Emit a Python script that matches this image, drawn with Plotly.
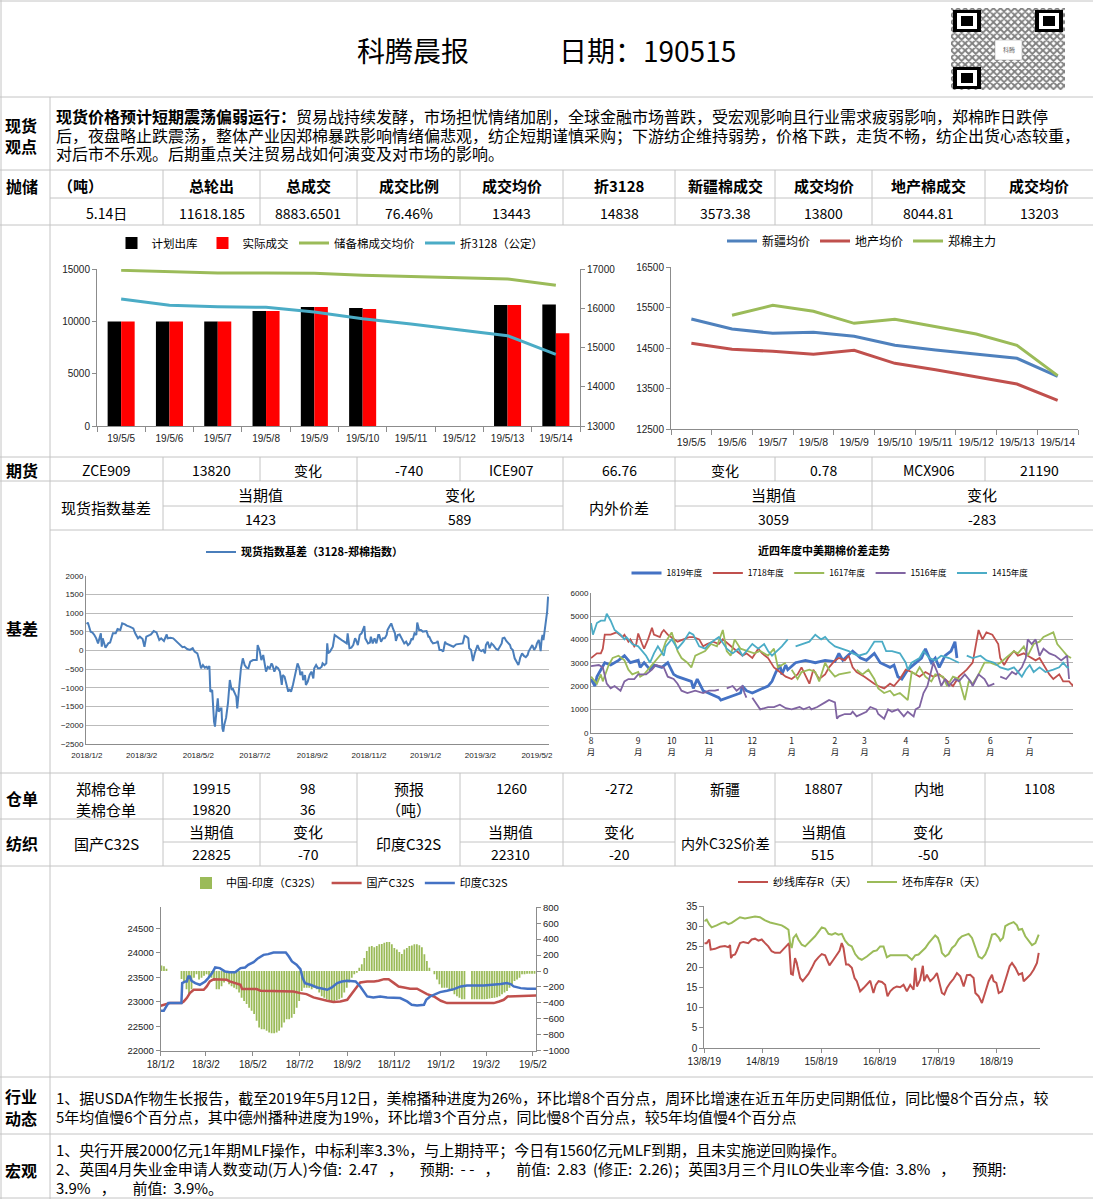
import plotly.graph_objects as go
import pandas as pd

W, H = 1093, 1199
FONT = "Noto Sans CJK SC"
NUM = "Liberation Sans"
GRID = "#C4C4C4"
AX = "#8C8C8C"
NB = "\u00a0"


def px(x):
    return x / W


def py(y):
    return 1 - y / H


# ======================= DATA =======================
# chart 1: 抛储
c1_dates = ["19/5/5", "19/5/6", "19/5/7", "19/5/8", "19/5/9", "19/5/10", "19/5/11", "19/5/12", "19/5/13", "19/5/14"]
c1_plan = [10000, 10000, 10000, 11000, 11375, 11280, None, None, 11568, 11618]
c1_actual = [10000, 10000, 10000, 11000, 11375, 11185, None, None, 11568, 8884]
c1_reserve_price = [14873, 14714, 14619, 14619, 14587, 14396, 14301, 14174, 14047, 13443]
c1_z3128 = [16237, 16076, 16042, 16025, 15907, 15737, 15602, 15458, 15305, 14831]

# chart 2: 均价
c2_xinjiang = [15222, 14974, 14867, 14891, 14793, 14570, 14455, 14356, 14248, 13803]
c2_local = [14620, 14471, 14422, 14347, 14446, 14125, 13968, 13786, 13613, 13209]
c2_zce = [None, 15312, 15559, 15411, 15114, 15213, 15024, 14851, 14570, 13820]

# chart 3: 现货指数基差 (days since 2018-01-02, value)
basis_pts = [
    (0, 700), (1, 750), (4, 500), (6, 480), (8, 415), (10, 325), (12, 190), (14, 370), (15, 460), (16, 100),
    (17, 325), (20, 75), (23, 190), (25, 215), (28, 460), (31, 460), (33, 575), (36, 550), (38, 725), (41, 700),
    (43, 665), (46, 640), (50, 590), (52, 460), (55, 325), (57, 370), (60, 305), (62, 100), (64, 370), (68, 415),
    (69, 430), (72, 520), (75, 485), (78, 280), (80, 325), (83, 255), (86, 430), (87, 325), (90, 340), (93, 325),
    (96, 255), (100, 145), (103, 90), (105, 100), (108, 40), (111, 15), (114, 60), (116, -30), (119, -75), (121, -255),
    (123, -475), (125, -390), (127, -460), (129, -435), (130, -475), (132, -415), (133, -1100), (135, -1060), (136, -1550), (137, -1900),
    (138, -2035), (139, -1725), (141, -1280), (142, -1635), (144, -1550), (145, -1550), (146, -2080), (147, -2170), (148, -1990), (150, -1795),
    (152, -1410), (154, -790), (156, -1060), (157, -1010), (159, -1145), (161, -1235), (162, -1550), (164, -970), (166, -475), (168, -210),
    (170, -390), (172, -460), (174, -475), (176, -300), (179, -255), (183, -255), (184, 145), (186, 15), (188, -255), (190, -120),
    (192, -520), (193, -565), (195, -435), (197, -475), (199, -345), (200, -390), (202, -565), (204, -435), (206, -475), (208, -565),
    (210, -920), (211, -655), (213, -700), (215, -920), (217, -1100), (218, -1030), (220, -1100), (222, -920), (225, -565), (227, -345),
    (229, -475), (230, -655), (232, -565), (233, -790), (235, -655), (236, -920), (238, -830), (240, -655), (242, -565), (244, -745),
    (245, -475), (247, -390), (249, -475), (251, -475), (253, -435), (254, -345), (256, -390), (258, -345), (259, 190), (260, -75),
    (262, -30), (263, 15), (265, 100), (267, 415), (269, 370), (272, 325), (276, 255), (280, 190), (281, 460), (283, 60),
    (285, 75), (287, 145), (289, 325), (290, 280), (292, 145), (294, 415), (296, 460), (298, 590), (299, 655), (300, 325),
    (303, 190), (305, 210), (306, 370), (308, 190), (310, 325), (312, 190), (314, 415), (315, 415), (317, 235), (319, 325),
    (321, 325), (323, 415), (324, 550), (326, 640), (328, 725), (330, 575), (332, 460), (333, 255), (335, 415), (337, 430),
    (339, 325), (341, 235), (342, 190), (344, 235), (346, 145), (348, 190), (350, 325), (351, 280), (353, 460), (355, 415),
    (356, 750), (358, 550), (360, 550), (362, 505), (364, 505), (366, 520), (368, 370), (369, 370), (371, 255), (373, 190),
    (377, 215), (378, 255), (380, 15), (382, 15), (384, -30), (386, 235), (387, 190), (391, 145), (395, 100), (398, 165),
    (402, 175), (405, 190), (407, 390), (409, 370), (411, 325), (412, 60), (414, 15), (416, -280), (418, -75), (420, 60),
    (421, 145), (423, 15), (425, -15), (427, 15), (429, -75), (430, 145), (432, 235), (434, 60), (436, 190), (438, 145),
    (439, 100), (441, 40), (443, 15), (445, 100), (447, 190), (448, 325), (450, 340), (452, 255), (454, 190), (456, 145),
    (457, 60), (459, 15), (461, -210), (463, -300), (465, -390), (466, -300), (467, -190), (469, -75), (471, -145), (473, -180),
    (475, -120), (476, -30), (478, 60), (480, 145), (482, 15), (484, 100), (485, 190), (487, 280), (488, 145), (489, -15),
    (490, 280), (491, 415), (492, 280), (493, 460), (494, 680), (495, 815), (496, 1040), (497, 1440),
]

# chart 4: 近四年度中美期棉价差 (trading-day index within season, value)
c4_month_idx = [0, 24, 41, 60, 82, 102, 124, 139, 160, 181, 203, 223]
c4_month_lbl = ["8", "9", "10", "11", "12", "1", "2", "3", "4", "5", "6", "7"]
s1819 = [(0, 2300), (2, 2000), (3, 2400), (5, 2700), (7, 3000), (10, 2900), (12, 3000), (14, 3100), (17, 3300), (20, 3000),
         (24, 3100), (25, 2800), (27, 3000), (30, 2700), (32, 2900), (36, 2800), (39, 3000), (42, 2500), (44, 2400), (48, 2300),
         (51, 2200), (52, 1900), (54, 2300), (57, 1800), (60, 1700), (63, 1600), (65, 1500), (66, 1400), (69, 1500), (72, 1600),
         (76, 1700), (77, 2000), (79, 1800), (82, 1700), (85, 1800), (87, 1900), (90, 2000), (92, 2200), (94, 2600), (96, 2900),
         (97, 2500), (99, 2900), (100, 2700), (104, 3000), (109, 3100), (114, 3000), (119, 3100), (124, 3050), (126, 3400), (128, 3100),
         (133, 3500), (137, 3200), (140, 3100), (144, 3400), (147, 3000), (152, 2800), (154, 2900), (156, 2400), (158, 2300), (161, 2700),
         (165, 3000), (168, 3200), (170, 3600), (173, 3000), (175, 3200), (177, 2800), (180, 3300), (183, 3500), (185, 3900), (186, 3200)]
s1718 = [(0, 3200), (3, 3400), (5, 3400), (6, 3600), (7, 4200), (10, 4200), (13, 4300), (16, 4100), (17, 4200), (19, 3900),
         (20, 4000), (22, 3700), (23, 3800), (24, 4250), (26, 3800), (27, 3600), (29, 4000), (31, 4500), (32, 4200), (35, 4100),
         (36, 4300), (37, 4400), (39, 4200), (42, 4000), (44, 3900), (47, 4000), (50, 4100), (52, 4100), (55, 4000), (57, 3700),
         (59, 3800), (62, 3900), (65, 3800), (67, 4000), (71, 3700), (74, 3500), (77, 3300), (79, 3400), (82, 3200), (85, 3600),
         (87, 3400), (90, 3200), (93, 2800), (96, 2600), (99, 2400), (102, 2300), (105, 2500), (107, 2800), (110, 2300), (111, 2100),
         (113, 2700), (116, 2300), (119, 2500), (121, 2800), (124, 3100), (126, 3200), (129, 3100), (131, 3300), (133, 2800), (135, 2600),
         (139, 2400), (142, 2200), (144, 2100), (146, 2000), (149, 1900), (152, 2100), (154, 2000), (157, 2300), (160, 2700), (163, 2600),
         (167, 2400), (170, 2600), (174, 2400), (177, 2500), (181, 2200), (184, 2000), (187, 2400), (191, 2700), (194, 3000), (195, 3500),
         (197, 4400), (199, 4000), (201, 4300), (204, 4200), (207, 3800), (208, 3200), (210, 2900), (212, 3200), (215, 3500), (217, 3300),
         (220, 3400), (222, 3300), (226, 3100), (228, 3200), (231, 2800), (233, 2500), (235, 2300), (238, 2500), (240, 2200), (243, 2200),
         (245, 2000), (246, 2300)]
s1617 = [(0, 2400), (2, 2200), (3, 2100), (5, 2500), (6, 2200), (9, 2900), (11, 3200), (14, 3300), (17, 3100), (19, 2700),
         (21, 2500), (24, 2600), (25, 2400), (27, 2500), (30, 2800), (32, 3000), (36, 3400), (38, 3900), (41, 4300), (44, 3500),
         (46, 3200), (49, 3000), (51, 2800), (53, 3300), (56, 3400), (58, 3500), (61, 3800), (64, 3700), (67, 4400), (69, 3500),
         (71, 3300), (73, 4000), (76, 3600), (80, 3500), (83, 3400), (86, 3500), (90, 3300), (93, 3600), (95, 2800), (97, 2900),
         (99, 3000), (100, None), (102, 2700), (105, 2300), (107, 2600), (111, 2700), (114, 2600), (116, 2200), (119, 3000), (121, 2700),
         (124, 2400), (126, 2500), (132, 2600), (133, None), (135, 2700), (138, 2500), (141, 2700), (144, 2300), (146, 1900), (149, 1700),
         (152, 1800), (154, 1600), (157, 1700), (161, 1400), (163, 2600), (165, 2500), (167, 2800), (170, 2400), (173, 2200), (175, 2500),
         (179, 2400), (181, 2000), (184, 2400), (187, 2300), (189, 1700), (190, 1400), (192, 2200), (194, 2100), (197, 2500), (200, 3000),
         (203, 3000), (206, 2900), (208, 3000), (212, 3300), (215, 3500), (217, 3400), (220, 3700), (222, 3300), (225, 3800), (228, 3900),
         (230, 4100), (235, 4300), (237, 3800), (240, 3500), (242, 3300), (244, 3200)]
s1516 = [(0, 2850), (4, 2900), (6, 2800), (8, 2100), (10, 1900), (12, 2000), (15, 1800), (17, 2200), (19, 2300), (22, 2300),
         (24, 2500), (28, 2500), (31, 2700), (33, 2900), (37, 2800), (39, 2400), (42, 2300), (44, 2100), (46, 1800), (49, 1700),
         (53, 1800), (57, 1700), (60, 1800), (63, 1800), (65, 1850), (67, None), (69, 1900), (72, 2000), (74, 1800), (77, 2000),
         (78, 1700), (79, 1500), (80, None), (82, 1500), (85, 1100), (86, 1000), (90, 1100), (93, 1100), (96, 1200), (99, 1050),
         (102, 1000), (106, 1100), (108, 1000), (111, 1100), (112, 1000), (115, 1100), (119, 1300), (121, 1400), (124, 1300), (125, 600),
         (126, 700), (129, 800), (132, 800), (133, 900), (135, 700), (138, 800), (140, 900), (142, 1100), (145, 1000), (146, 800),
         (149, 600), (151, 1000), (153, 900), (156, 1000), (159, 700), (161, 900), (164, 700), (165, 1000), (167, 1100), (169, 1700),
         (171, 2000), (174, 3000), (176, 2600), (178, 2000), (180, 2300), (182, 2000), (185, 2300), (187, 2200), (190, 2500), (193, 2200),
         (194, 2000), (197, 2500), (200, 2300), (202, 2000), (205, 2100), (206, None), (208, 2400), (211, 2300), (214, 2600), (216, 2500),
         (219, 2800), (221, 3200), (222, 4000), (224, 3800), (226, 4000), (228, 3300), (230, 3600), (233, 3400), (236, 3300), (239, 3100),
         (242, 3300), (243, 2300)]
s1415 = [(0, 4700), (1, 4200), (3, 4700), (5, 4800), (7, 4800), (8, 5100), (10, 4800), (12, 4400), (15, 4200), (17, 4000),
         (18, 4100), (21, 3800), (24, 3700), (28, 3300), (30, 3000), (32, 3400), (34, 3700), (37, 3300), (38, 3700), (41, 4000),
         (44, 3600), (47, 3900), (50, 4300), (52, 4200), (55, 3700), (58, 3600), (60, 3800), (63, 4000), (65, 4100), (69, 3600),
         (72, 3400), (75, 3600), (77, 3300), (79, 3500), (82, 3800), (85, 3600), (88, 3800), (90, 3500), (92, 3300), (97, 3700),
         (100, 4000), (102, None), (104, 3700), (107, 3800), (111, 3900), (114, 4200), (117, 4000), (119, 4100), (121, 3900), (124, 3700),
         (128, 3600), (131, 3500), (133, 3400), (136, 3300), (140, 3400), (141, 3500), (144, 3900), (148, 3900), (150, 3500), (153, 3500),
         (157, 3400), (160, 3000), (161, 2700), (163, 3000), (167, 3200), (169, 3500), (172, 3200), (175, 3100), (178, 3300), (182, 3200),
         (187, 3000), (189, None), (191, 3300), (194, 3200), (198, 3300), (201, 3100), (205, 3000), (208, 2800), (212, 2700), (215, 2800),
         (219, 2400), (221, 2700), (223, 2900), (225, 2600), (228, 2800), (231, 2600), (235, 2700), (238, 2800), (240, 3000), (242, 2800),
         (243, 2800)]

# chart 5: 纺织 (days since 2018-01-02)
c5_domestic = [(0, 22917), (12, 22971), (27, 22971), (30, 23005), (34, 23073), (38, 23175), (43, 23243), (56, 23243), (60, 23311),
               (64, 23413), (69, 23460), (77, 23460), (86, 23447), (90, 23413), (99, 23379), (104, 23345), (106, 23257), (125, 23257),
               (130, 23223), (164, 23223), (173, 23209), (182, 23175), (190, 23155), (199, 23087), (208, 23060), (217, 23019),
               (225, 22992), (234, 23005), (243, 23039), (249, 23175), (256, 23311), (260, 23393), (269, 23413), (278, 23413),
               (284, 23427), (291, 23460), (297, 23460), (304, 23379), (310, 23311), (317, 23290), (325, 23264), (334, 23264),
               (341, 23209), (347, 23155), (356, 23107), (365, 23019), (373, 22971), (434, 22971), (441, 23005), (447, 23039),
               (452, 23107), (482, 23128), (490, 23128)]
c5_india = [(0, 22815), (4, 22815), (6, 22870), (10, 22971), (27, 22971), (28, 23379), (32, 23413), (34, 23413), (36, 23515),
            (38, 23515), (40, 23427), (45, 23379), (51, 23345), (58, 23413), (62, 23481), (67, 23583), (71, 23698), (77, 23685),
            (84, 23617), (90, 23603), (97, 23603), (104, 23685), (110, 23698), (114, 23753), (121, 23807), (127, 23888), (134, 23956),
            (140, 23970), (147, 24004), (163, 24004), (167, 23922), (171, 23820), (177, 23753), (182, 23664), (185, 23481),
            (188, 23379), (195, 23345), (204, 23291), (217, 23243), (223, 23291), (230, 23379), (236, 23413), (243, 23427),
            (254, 23413), (260, 23311), (269, 23107), (277, 23087), (286, 23107), (295, 23087), (304, 23087), (312, 23073),
            (321, 23005), (327, 22937), (334, 22924), (343, 22937), (346, 23039), (351, 23107), (358, 23155), (364, 23196),
            (373, 23223), (382, 23257), (391, 23311), (399, 23332), (421, 23332), (434, 23345), (443, 23359), (451, 23379),
            (456, 23359), (460, 23311), (469, 23277), (478, 23264), (490, 23264)]
c5_spread = [70, 60, 30, None, None, None, None, None, -100, -150, -230, -290, -230, -85, -40, -105, -85, -60, -40, -60,
             -85, -125, -230, -230, -190, -145, -125, -165, -190, -210, -230, -270, -335, -375, -415, -460, -500, -540, -625, -710,
             -730, -730, -750, -770, -780, -780, -770, -750, -710, -645, -605, -605, -585, -540, -460, -375, -250, -210, -210, -210,
             -230, -210, -230, -270, -315, -335, -355, -365, -375, -375, -365, -355, -335, -270, -210, -145, -85, -40, -20, 40,
             85, 165, 250, 305, 315, 300, 315, 335, 340, 355, 365, 365, 335, 290, 270, 240, 215, 270, 290, 315,
             320, 335, 335, 325, 300, 210, 125, 40, None, -40, -105, -165, -210, -210, -210, -230, -250, -290, -315, -335,
             -355, -355, None, None, -355, -355, -355, -355, -355, -355, -350, -345, -340, -335, -330, -315, -290, -270, -250, -210,
             -165, -125, -105, -85, -40, -40, -35, -35, -35, -35]

# chart 6: 库存 (days since 2013-08-19)
c6_yarn = [(0, 25.9), (15, 25.9), (31, 26.8), (40, 24.3), (67, 24.5), (98, 25.0), (129, 25.2), (150, 24.9), (161, 25.4), (167, 22.2),
           (177, 22.9), (192, 23.1), (202, 23.9), (223, 25.9), (244, 26.2), (275, 25.9), (296, 26.8), (317, 27.0), (338, 26.5), (359, 26.8),
           (380, 25.9), (400, 25.1), (421, 23.9), (442, 23.5), (473, 23.5), (494, 24.3), (515, 25.1), (530, 25.9), (542, 18.3), (553, 18.1),
           (567, 22.2), (578, 21.0), (584, 19.8), (599, 17.3), (615, 16.5), (630, 17.3), (651, 18.3), (672, 19.8), (692, 21.4), (713, 22.4),
           (734, 23.2), (755, 22.9), (782, 20.4), (807, 21.8), (828, 23.2), (845, 24.0), (859, 25.9), (870, 24.7), (886, 20.6), (901, 20.6),
           (922, 19.8), (939, 17.3), (953, 16.5), (974, 14.0), (995, 14.8), (1016, 15.6), (1037, 16.6), (1057, 13.6), (1072, 15.6), (1089, 16.5),
           (1110, 16.3), (1130, 15.6), (1145, 12.8), (1162, 14.0), (1183, 14.8), (1203, 15.2), (1224, 15.0), (1245, 15.6), (1266, 14.0), (1287, 15.6),
           (1308, 14.4), (1318, 19.8), (1329, 15.2), (1349, 16.9), (1366, 20.3), (1374, 16.5), (1391, 18.1), (1412, 16.5), (1433, 17.3), (1454, 18.5),
           (1470, 16.1), (1485, 13.6), (1500, 13.2), (1516, 14.8), (1537, 16.1), (1558, 17.1), (1579, 18.5), (1600, 17.7), (1621, 15.2), (1641, 18.0),
           (1662, 18.1), (1683, 17.3), (1694, 13.6), (1714, 12.8), (1735, 11.1), (1756, 13.6), (1777, 16.5), (1798, 18.1), (1808, 16.5), (1825, 16.1),
           (1840, 13.6), (1860, 14.0), (1871, 15.6), (1892, 18.1), (1908, 20.2), (1923, 21.0), (1944, 19.8), (1965, 18.1), (1986, 18.5), (1996, 16.5),
           (2017, 17.3), (2038, 18.1), (2059, 19.4), (2079, 21.0), (2090, 23.5)]
c6_cloth = [(0, 31.3), (15, 31.7), (31, 30.5), (46, 29.8), (77, 30.3), (108, 30.9), (129, 31.1), (150, 30.6), (171, 30.9), (192, 31.5),
            (223, 32.3), (254, 32.0), (286, 32.3), (317, 32.5), (348, 32.3), (380, 31.5), (411, 31.0), (442, 30.7), (463, 30.5), (484, 30.3),
            (505, 29.8), (526, 29.2), (536, 25.9), (546, 24.7), (557, 27.2), (574, 28.0), (588, 26.8), (609, 25.5), (630, 25.1), (651, 25.9),
            (672, 26.8), (692, 27.6), (713, 28.7), (734, 29.8), (755, 29.5), (776, 28.2), (797, 28.0), (818, 28.4), (838, 28.0), (859, 28.2),
            (880, 26.5), (901, 25.5), (922, 25.1), (943, 23.2), (964, 22.2), (984, 21.8), (1016, 22.6), (1037, 23.2), (1057, 23.9), (1078, 24.1),
            (1099, 25.1), (1120, 25.1), (1141, 22.4), (1162, 22.9), (1193, 22.9), (1224, 22.8), (1245, 22.9), (1266, 22.9), (1287, 22.2), (1297, 21.8),
            (1318, 22.9), (1339, 23.1), (1360, 23.9), (1381, 24.7), (1402, 25.9), (1422, 26.8), (1443, 27.8), (1460, 27.2), (1475, 25.5), (1485, 23.5),
            (1506, 22.6), (1527, 23.2), (1548, 24.7), (1568, 25.4), (1589, 26.8), (1610, 27.6), (1631, 28.0), (1652, 28.2), (1673, 27.2), (1694, 24.7),
            (1714, 22.6), (1735, 22.1), (1756, 23.1), (1777, 25.1), (1798, 28.0), (1819, 28.2), (1840, 27.3), (1850, 26.5), (1867, 27.2), (1881, 30.1),
            (1902, 30.6), (1933, 31.1), (1954, 30.3), (1965, 29.2), (1986, 29.4), (2006, 27.6), (2027, 26.4), (2048, 25.4), (2069, 25.9), (2090, 28.0)]

# tables
stock_head = ["总轮出", "总成交", "成交比例", "成交均价", "折3128", "新疆棉成交", "成交均价", "地产棉成交", "成交均价"]
stock_vals = ["11618.185", "8883.6501", "76.46%", "13443", "14838", "3573.38", "13800", "8044.81", "13203"]
fut_row = ["ZCE909", "13820", "变化", "-740", "ICE907", "66.76", "变化", "0.78", "MCX906", "21190"]
wr_row1 = ["郑棉仓单", "19915", "98", "预报", "1260", "-272", "新疆", "18807", "内地", "1108"]
wr_row2 = ["美棉仓单", "19820", "36", "（吨）", "", "", "", "", "", ""]

# ======================= HELPERS =======================
fig = go.Figure()
ann = []
shapes = []

col_edges = [50, 163, 260, 357, 460, 563, 675, 775, 872, 985, 1093]
col_cent = [106] + [(col_edges[i] + col_edges[i + 1]) / 2 for i in range(1, 10)]


def T(x, y, text, size=14, bold=False, xanchor="center", color="#000", font=FONT):
    if bold:
        text = "<b>" + text + "</b>"
    ann.append(dict(x=px(x), y=py(y), xref="paper", yref="paper", text=text, showarrow=False,
                    xanchor=xanchor, yanchor="middle", font=dict(family=font, size=size, color=color)))


def HL(y, x0=0, x1=W):
    shapes.append(dict(type="line", xref="paper", yref="paper", x0=px(x0), x1=px(x1), y0=py(y), y1=py(y),
                       line=dict(color=GRID, width=1)))


def VL(x, y0, y1):
    shapes.append(dict(type="line", xref="paper", yref="paper", x0=px(x), x1=px(x), y0=py(y0), y1=py(y1),
                       line=dict(color=GRID, width=1)))


def unzip(pts):
    return [p[0] for p in pts], [p[1] for p in pts]


# ======================= TABLE GRID =======================
for y in [1, 97, 170, 225, 457, 481, 773, 819, 866, 1077, 1134, 1198]:
    HL(y)
HL(198, 50, W)
HL(530, 50, W)
HL(506, 163, 563); HL(506, 675, W)
HL(842, 163, 357); HL(842, 460, 675); HL(842, 775, W)
VL(1, 0, H)
VL(50, 97, H)
for x in col_edges[1:-1]:
    VL(x, 170, 225)
    VL(x, 457, 481)
    VL(x, 773, 866)
for x in [163, 357, 563, 675, 872]:
    VL(x, 481, 530)

# ======================= TEXT =======================
T(413, 50, "科腾晨报", size=28)
T(647, 50, "日期：190515", size=28)

lbl = dict(size=16, bold=True)
T(21, 125, "现货", **lbl); T(21, 146, "观点", **lbl)
T(22, 186, "抛储", **lbl)
T(22, 470, "期货", **lbl)
T(22, 628, "基差", **lbl)
T(22, 798, "仓单", **lbl)
T(22, 843, "纺织", **lbl)
T(21, 1096, "行业", **lbl); T(21, 1118, "动态", **lbl)
T(21, 1170, "宏观", **lbl)

T(54, 116, "<b>现货价格预计短期震荡偏弱运行：</b>贸易战持续发酵，市场担忧情绪加剧，全球金融市场普跌，受宏观影响且行业需求疲弱影响，郑棉昨日跌停", size=16, xanchor="left")
T(54, 135, "后，夜盘略止跌震荡，整体产业因郑棉暴跌影响情绪偏悲观，纺企短期谨慎采购；下游纺企维持弱势，价格下跌，走货不畅，纺企出货心态较重，", size=16, xanchor="left")
T(54, 153, "对后市不乐观。后期重点关注贸易战如何演变及对市场的影响。", size=16, xanchor="left")

T(80, 186, "（吨）", size=15, bold=True)
for i, h in enumerate(stock_head):
    T(col_cent[i + 1], 186, h, size=15, bold=True)
T(106, 213, "5.14日", size=14)
for i, v in enumerate(stock_vals):
    T(col_cent[i + 1], 213, v, size=14)

for i, v in enumerate(fut_row):
    T(col_cent[i], 470, v, size=14)

T(106, 507, "现货指数基差", size=15)
T(260, 495, "当期值", size=15); T(260, 519, "1423", size=14)
T(460, 495, "变化", size=15); T(460, 519, "589", size=14)
T(619, 507, "内外价差", size=15)
T(773, 495, "当期值", size=15); T(773, 519, "3059", size=14)
T(982, 495, "变化", size=15); T(982, 519, "-283", size=14)

for i, v in enumerate(wr_row1):
    T(col_cent[i], 788, v, size=15 if not v.lstrip("-").isdigit() else 14)
for i, v in enumerate(wr_row2):
    if v:
        T(col_cent[i], 809, v, size=15 if not v.isdigit() else 14)

T(106, 843, "国产C32S", size=15)
T(211, 831, "当期值", size=15); T(211, 854, "22825", size=14)
T(308, 831, "变化", size=15); T(308, 854, "-70", size=14)
T(408, 843, "印度C32S", size=15)
T(511, 831, "当期值", size=15); T(511, 854, "22310", size=14)
T(619, 831, "变化", size=15); T(619, 854, "-20", size=14)
T(725, 843, "内外C32S价差", size=14)
T(823, 831, "当期值", size=15); T(823, 854, "515", size=14)
T(928, 831, "变化", size=15); T(928, 854, "-50", size=14)

T(54, 1097, "1、据USDA作物生长报告，截至2019年5月12日，美棉播种进度为26%，环比增8个百分点，周环比增速在近五年历史同期低位，同比慢8个百分点，较", size=15, xanchor="left")
T(54, 1116, "5年均值慢6个百分点，其中德州播种进度为19%，环比增3个百分点，同比慢8个百分点，较5年均值慢4个百分点", size=15, xanchor="left")
T(54, 1149, "1、央行开展2000亿元1年期MLF操作，中标利率3.3%，与上期持平；今日有1560亿元MLF到期，且未实施逆回购操作。", size=15, xanchor="left")
T(54, 1168, ("2、英国4月失业金申请人数变动(万人)今值:" + NB * 2 + "2.47" + NB * 3 + "，" + NB * 5 + "预期:" + NB * 2 + "-" + NB + "-"
             + NB * 3 + "，" + NB * 5 + "前值:" + NB * 2 + "2.83" + NB * 2 + "(修正:" + NB * 2 + "2.26)；英国3月三个月ILO失业率今值:" + NB * 2
             + "3.8%" + NB * 3 + "，" + NB * 5 + "预期:"), size=15, xanchor="left")
T(54, 1187, "3.9%" + NB * 3 + "，" + NB * 5 + "前值:" + NB * 2 + "3.9%。", size=15, xanchor="left")

# chart titles
T(824, 550, "近四年度中美期棉价差走势", size=11, bold=True)

# ======================= CHART 1 =======================
fig.add_trace(go.Bar(x=c1_dates, y=c1_plan, name="计划出库", marker=dict(color="#000000", line=dict(width=0)),
                     xaxis="x", yaxis="y", legend="legend"))
fig.add_trace(go.Bar(x=c1_dates, y=c1_actual, name="实际成交", marker=dict(color="#FF0000", line=dict(width=0)),
                     xaxis="x", yaxis="y", legend="legend"))
fig.add_trace(go.Scatter(x=c1_dates, y=c1_reserve_price, name="储备棉成交均价", mode="lines",
                         line=dict(color="#9BBB59", width=3), xaxis="x", yaxis="y", legend="legend"))
fig.add_trace(go.Scatter(x=c1_dates, y=c1_z3128, name="折3128（公定）", mode="lines",
                         line=dict(color="#4BACC6", width=3), xaxis="x", yaxis="y2", legend="legend"))

# ======================= CHART 2 =======================
fig.add_trace(go.Scatter(x=c1_dates, y=c2_xinjiang, name="新疆均价", mode="lines",
                         line=dict(color="#4F81BD", width=3), xaxis="x2", yaxis="y3", legend="legend2"))
fig.add_trace(go.Scatter(x=c1_dates, y=c2_local, name="地产均价", mode="lines",
                         line=dict(color="#C0504D", width=3), xaxis="x2", yaxis="y3", legend="legend2"))
fig.add_trace(go.Scatter(x=c1_dates, y=c2_zce, name="郑棉主力", mode="lines",
                         line=dict(color="#9BBB59", width=3), xaxis="x2", yaxis="y3", legend="legend2"))

# ======================= CHART 3 =======================
bd, bv = unzip(basis_pts)
basis_dates = [pd.Timestamp("2018-01-02") + pd.Timedelta(days=d) for d in bd]
fig.add_trace(go.Scatter(x=basis_dates, y=bv, name="现货指数基差（3128-郑棉指数）", mode="lines",
                         line=dict(color="#4A7EBB", width=2), xaxis="x3", yaxis="y4", legend="legend3"))

# ======================= CHART 4 =======================
for name, pts, col, wd in [("1819年度", s1819, "#4472C4", 2.8), ("1718年度", s1718, "#C0504D", 1.8),
                           ("1617年度", s1617, "#9BBB59", 1.8), ("1516年度", s1516, "#8064A2", 1.8),
                           ("1415年度", s1415, "#4BACC6", 1.8)]:
    xs, ys = unzip(pts)
    fig.add_trace(go.Scatter(x=xs, y=ys, name=name, mode="lines", connectgaps=False,
                             line=dict(color=col, width=wd), xaxis="x4", yaxis="y5", legend="legend4"))

# ======================= CHART 5 =======================
bar_dates = [pd.Timestamp("2018-01-03") + pd.Timedelta(hours=78.3 * k) for k in range(len(c5_spread))]
fig.add_trace(go.Bar(x=bar_dates, y=c5_spread, name="中国-印度（C32S）", width=2.3 * 86400000,
                     marker=dict(color="#9BBB59", line=dict(width=0)), xaxis="x5", yaxis="y6", legend="legend5"))
for name, pts, col in [("国产C32S", c5_domestic, "#C0504D"), ("印度C32S", c5_india, "#4472C4")]:
    xs, ys = unzip(pts)
    dts = [pd.Timestamp("2018-01-02") + pd.Timedelta(days=d) for d in xs]
    fig.add_trace(go.Scatter(x=dts, y=ys, name=name, mode="lines", line=dict(color=col, width=2.5),
                             xaxis="x5", yaxis="y7", legend="legend5"))

# ======================= CHART 6 =======================
for name, pts, col in [("纱线库存R（天）", c6_yarn, "#C0504D"), ("坯布库存R（天）", c6_cloth, "#9BBB59")]:
    xs, ys = unzip(pts)
    dts = [pd.Timestamp("2013-08-19") + pd.Timedelta(days=d) for d in xs]
    fig.add_trace(go.Scatter(x=dts, y=ys, name=name, mode="lines", line=dict(color=col, width=2),
                             xaxis="x6", yaxis="y8", legend="legend6"))

# ======================= QR CODE (stylised) =======================
fig.add_trace(go.Scatter(x=[0, 1, 1, 0, 0], y=[0, 0, 1, 1, 0], mode="lines", fill="toself",
                         line=dict(width=0, color="black"), showlegend=False,
                         fillpattern=dict(shape="x", size=5, solidity=0.6, fgcolor="#000", bgcolor="#fff"),
                         xaxis="x7", yaxis="y9"))
for (x0, y0) in [(953, 10), (1035, 10), (953, 67)]:
    w, h = 28, 22
    shapes.append(dict(type="rect", xref="paper", yref="paper", x0=px(x0), x1=px(x0 + w), y0=py(y0 + h), y1=py(y0),
                       fillcolor="#000", line=dict(width=0)))
    shapes.append(dict(type="rect", xref="paper", yref="paper", x0=px(x0 + 4), x1=px(x0 + w - 4), y0=py(y0 + h - 3),
                       y1=py(y0 + 3), fillcolor="#fff", line=dict(width=0)))
    shapes.append(dict(type="rect", xref="paper", yref="paper", x0=px(x0 + 8), x1=px(x0 + w - 8), y0=py(y0 + h - 6),
                       y1=py(y0 + 6), fillcolor="#000", line=dict(width=0)))
shapes.append(dict(type="rect", xref="paper", yref="paper", x0=px(995), x1=px(1022), y0=py(60), y1=py(40),
                   fillcolor="#fff", line=dict(width=0.5, color="#999")))
T(1008.5, 50, "科腾", size=6, color="#666")

# ======================= AXES =======================
tf = dict(family=NUM, size=10, color="#222")
base_ax = dict(showgrid=False, zeroline=False, showline=True, linecolor=AX, linewidth=1, ticks="outside",
               tickcolor=AX, ticklen=4, tickfont=tf, fixedrange=True, automargin=False)
num_ax = dict(base_ax, tickformat="d")
dates9 = ["2018-01-02", "2018-03-02", "2018-05-02", "2018-07-02", "2018-09-02", "2018-11-02",
          "2019-01-02", "2019-03-02", "2019-05-02"]

layout = dict(
    width=W, height=H, margin=dict(l=0, r=0, t=0, b=0, pad=0, autoexpand=False), autosize=False,
    paper_bgcolor="white", plot_bgcolor="white",
    barmode="group", bargap=0.44, bargroupgap=0.0,
    font=dict(family=FONT, color="#000"),
    showlegend=True, hovermode=False,
    annotations=ann, shapes=shapes,
    # chart 1
    xaxis=dict(base_ax, domain=[px(97), px(580)], anchor="y", type="category", tickson="boundaries", tickangle=0,
               range=[-0.5, 9.5], ticklen=5, ticklabelstandoff=3,
               tickfont=dict(family=NUM, size=10, color="#222")),
    yaxis=dict(num_ax, domain=[py(426.3), py(269)], anchor="x", range=[0, 15000], tickvals=[0, 5000, 10000, 15000]),
    yaxis2=dict(num_ax, overlaying="y", side="right", anchor="x", range=[13000, 17000],
                tickvals=[13000, 14000, 15000, 16000, 17000]),
    # chart 2
    xaxis2=dict(base_ax, domain=[px(671), px(1078)], anchor="y3", type="category", tickson="boundaries", tickangle=0,
                range=[-0.5, 9.5], ticklen=5, ticklabelstandoff=3,
                tickfont=dict(family=NUM, size=10.5, color="#222")),
    yaxis3=dict(num_ax, domain=[py(429), py(267.3)], anchor="x2", range=[12500, 16500],
                tickvals=[12500, 13500, 14500, 15500, 16500]),
    # chart 3
    xaxis3=dict(base_ax, domain=[px(86), px(549)], anchor="y4", type="date", tickangle=0,
                range=["2018-01-01", "2019-05-15"], ticks="", ticklabelstandoff=3,
                tickvals=dates9,
                ticktext=["2018/1/2", "2018/3/2", "2018/5/2", "2018/7/2", "2018/9/2", "2018/11/2", "2019/1/2",
                          "2019/3/2", "2019/5/2"],
                tickfont=dict(family=NUM, size=8, color="#222")),
    yaxis4=dict(num_ax, domain=[py(744), py(575.7)], anchor="x3", range=[-2500, 2000],
                tickvals=[-2500, -2000, -1500, -1000, -500, 0, 500, 1000, 1500, 2000],
                showgrid=True, gridcolor="#BBBBBB", ticks="", tickfont=dict(family=NUM, size=8, color="#222")),
    # chart 4
    xaxis4=dict(base_ax, domain=[px(591), px(1073)], anchor="y5", range=[0, 245], ticks="", tickangle=0,
                tickvals=c4_month_idx, ticktext=[m + "<br>月" for m in c4_month_lbl],
                tickfont=dict(family=FONT, size=8.5, color="#222")),
    yaxis5=dict(num_ax, domain=[py(732.7), py(592.7)], anchor="x4", range=[0, 6000],
                tickvals=[0, 1000, 2000, 3000, 4000, 5000, 6000],
                showgrid=True, gridcolor="#B0B0B0", ticks="", tickfont=dict(family=NUM, size=8, color="#222")),
    # chart 5
    xaxis5=dict(base_ax, domain=[px(160.7), px(536)], anchor="y6", type="date", tickangle=0,
                range=["2018-01-02", "2019-05-06"],
                tickvals=dates9,
                ticktext=["18/1/2", "18/3/2", "18/5/2", "18/7/2", "18/9/2", "18/11/2", "19/1/2", "19/3/2", "19/5/2"],
                tickfont=dict(family=NUM, size=10, color="#222")),
    yaxis6=dict(num_ax, domain=[py(1050.7), py(907.3)], anchor="x5", side="right", range=[-1000, 800],
                tickvals=[-1000, -800, -600, -400, -200, 0, 200, 400, 600, 800],
                tickfont=dict(family=NUM, size=9.5, color="#222")),
    yaxis7=dict(num_ax, overlaying="y6", side="left", anchor="x5", range=[22000, 24926],
                tickvals=[22000, 22500, 23000, 23500, 24000, 24500], tickfont=dict(family=NUM, size=9.5, color="#222")),
    # chart 6
    xaxis6=dict(base_ax, domain=[px(704.3), px(1040)], anchor="y8", type="date", tickangle=0,
                range=["2013-08-19", "2019-05-18"],
                tickvals=["2013-08-19", "2014-08-19", "2015-08-19", "2016-08-19", "2017-08-19", "2018-08-19"],
                ticktext=["13/8/19", "14/8/19", "15/8/19", "16/8/19", "17/8/19", "18/8/19"],
                tickfont=dict(family=NUM, size=10, color="#222")),
    yaxis8=dict(num_ax, domain=[py(1048), py(906.3)], anchor="x6", range=[0, 35],
                tickvals=[0, 5, 10, 15, 20, 25, 30, 35],
                tickfont=dict(family=NUM, size=10, color="#222")),
    # QR
    xaxis7=dict(domain=[px(951), px(1065)], anchor="y9", range=[0, 1], visible=False, fixedrange=True),
    yaxis9=dict(domain=[py(90), py(8)], anchor="x7", range=[0, 1], visible=False, fixedrange=True),
)

leg_common = dict(orientation="h", xanchor="center", yanchor="middle", bgcolor="rgba(0,0,0,0)",
                  itemwidth=30, itemclick=False, itemdoubleclick=False, traceorder="normal")
layout["legend"] = dict(leg_common, x=px(330), y=py(243), font=dict(family=FONT, size=11.5, color="#000"))
layout["legend2"] = dict(leg_common, x=px(862), y=py(241), font=dict(family=FONT, size=12, color="#000"))
layout["legend3"] = dict(leg_common, x=px(305), y=py(552), font=dict(family=FONT, size=11, color="#000", weight="bold"))
layout["legend4"] = dict(leg_common, x=px(830), y=py(573), font=dict(family=FONT, size=8.5, color="#000"))
layout["legend5"] = dict(leg_common, x=px(350), y=py(883), font=dict(family=FONT, size=11, color="#000"))
layout["legend6"] = dict(leg_common, x=px(862), y=py(882), font=dict(family=FONT, size=11, color="#000"))

fig.update_layout(**layout)

fig.write_html("out.html", config={"displayModeBar": False, "staticPlot": True},
               post_script="document.body.style.margin='0px';document.body.style.overflow='hidden';")
